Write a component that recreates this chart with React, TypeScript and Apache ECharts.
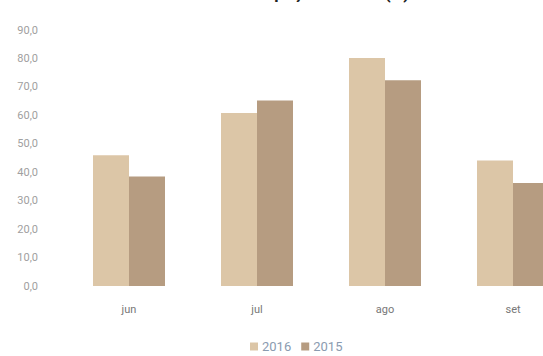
import React, { useEffect, useRef } from "react";
import * as echarts from "echarts";

const categories = ["jun", "jul", "ago", "set"];
const series2016 = [46.0, 60.8, 80.2, 44.1];
const series2015 = [38.5, 65.2, 72.3, 36.2];
const seriesNames = ["2016", "2015"];
const titleText = "Taxa de ocupação mensal (%)";

export default function App() {
  const ref = useRef<HTMLDivElement>(null);
  useEffect(() => {
    if (!ref.current) return;
    const chart = echarts.init(ref.current, undefined, { renderer: "svg" });
    chart.setOption({
      animation: false,
      backgroundColor: "#ffffff",
      title: {
        text: titleText,
        left: 178,
        top: -21,
        textStyle: { fontSize: 17, fontWeight: "bold", color: "#222", fontFamily: "Roboto" },
      },
      legend: {
        data: seriesNames,
        left: 245,
        top: 335,
        itemWidth: 8,
        itemHeight: 8,
        itemGap: 10,
        icon: "rect",
        textStyle: { color: "#8a9bb0", fontSize: 13, fontFamily: "Roboto", padding: [0, 0, 0, -1] },
      },
      grid: { left: 65, right: 23, top: 30, bottom: 70 },
      xAxis: {
        type: "category",
        data: categories,
        axisLine: { show: false },
        axisTick: { show: false },
        axisLabel: { color: "#777", fontSize: 11, fontFamily: "Roboto", margin: 18 },
      },
      yAxis: {
        type: "value",
        min: 0,
        max: 90,
        interval: 10,
        splitLine: { show: false },
        axisLine: { show: false },
        axisTick: { show: false },
        axisLabel: {
          color: "#a0a0a0",
          fontSize: 11,
          fontFamily: "Roboto",
          margin: 27,
          formatter: (v: number) => v.toFixed(1).replace(".", ","),
        },
      },
      series: [
        {
          name: seriesNames[0],
          type: "bar",
          data: series2016,
          barWidth: 36,
          barGap: "0%",
          itemStyle: { color: "#dcc6a7" },
        },
        {
          name: seriesNames[1],
          type: "bar",
          data: series2015,
          barWidth: 36,
          itemStyle: { color: "#b69c81" },
        },
      ],
    });
    return () => chart.dispose();
  }, []);
  return (
    <div style={{ position: "absolute", left: 0, top: 0, width: 543, height: 356, overflow: "hidden" }}>
      <div ref={ref} style={{ width: 600, height: 356 }} />
    </div>
  );
}
